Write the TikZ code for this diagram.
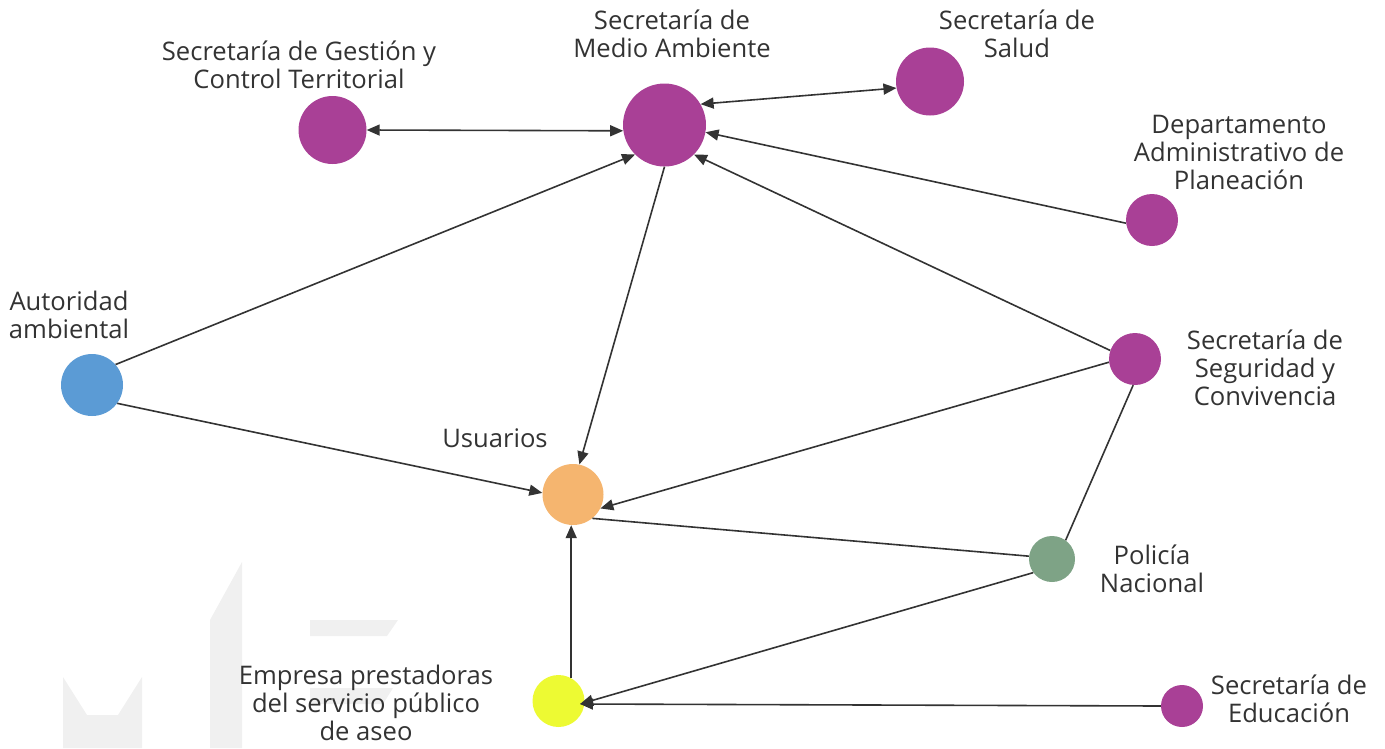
\documentclass[tikz,border=0pt]{standalone}
\usepackage{fontspec}
\setmainfont{Open Sans}
\usetikzlibrary{arrows.meta}
\definecolor{purp}{HTML}{A94096}
\definecolor{bluec}{HTML}{5B9BD5}
\definecolor{orangec}{HTML}{F5B56F}
\definecolor{greenc}{HTML}{7EA386}
\definecolor{yellowc}{HTML}{EDFA33}
\definecolor{txt}{HTML}{333333}
\definecolor{wm}{HTML}{F0F0F0}
\begin{document}
\begin{tikzpicture}[x=1pt,y=-1pt,
 dot/.style={circle,inner sep=0pt,minimum size=#1},
 lbl/.style={align=center,text=txt,inner sep=0pt,font=\fontsize{25.6}{28}\selectfont},
 link/.style={draw=txt,line width=1.6pt},
 arr/.style={link,-{Triangle[length=13pt,width=11pt]}},
 darr/.style={link,{Triangle[length=13pt,width=11pt]}-{Triangle[length=13pt,width=11pt]}}]
\useasboundingbox (0,0) rectangle (1385,748);
% watermark
\fill[wm] (63,677) -- (87,715) -- (118,715) -- (142,677) -- (142,748) -- (63,748) -- cycle;
\fill[wm] (210,620) -- (242,562) -- (242,748) -- (210,748) -- cycle;
\fill[wm] (310,620) -- (398,620) -- (387,636) -- (310,636) -- cycle;
\fill[wm] (310,688) -- (393,688) -- (383,704) -- (310,704) -- cycle;
% nodes
\node[dot=83pt,fill=purp] (medio) at (664.5,125) {};
\node[dot=68pt,fill=purp] (gestion) at (332.5,130) {};
\node[dot=68pt,fill=purp] (salud) at (930,81.5) {};
\node[dot=52pt,fill=purp] (plan) at (1152,220) {};
\node[dot=52pt,fill=purp] (seg) at (1135,359) {};
\node[dot=46pt,fill=greenc] (pol) at (1052,559) {};
\node[dot=61pt,fill=orangec] (usu) at (573,494.5) {};
\node[dot=62pt,fill=bluec] (aut) at (92,385) {};
\node[dot=52pt,fill=yellowc] (emp) at (558.5,701) {};
\node[dot=42pt,fill=purp] (edu) at (1182,706) {};
% labels
\node[lbl] (lgestion) at (299,64.5) {Secretaría de Gestión y\\Control Territorial};
\node[lbl] (lmedio) at (672,33.5) {Secretaría de\\Medio Ambiente};
\node[lbl] (lsalud) at (1017,33.5) {Secretaría de\\Salud};
\node[lbl] (lplan) at (1239,152.5) {Departamento\\Administrativo de\\Planeación};
\node[lbl] (laut) at (69,315) {Autoridad\\ambiental};
\node[lbl] (lseg) at (1265,368) {Secretaría de\\Seguridad y\\Convivencia};
\node[lbl] (lusu) at (495,438) {Usuarios};
\node[lbl] (lpol) at (1152,569) {Policía\\Nacional};
\node[lbl] (lemp) at (366,703) {Empresa prestadoras\\del servicio público\\de aseo};
\node[lbl] (ledu) at (1289,699) {Secretaría de\\Educación};
% connectors
\coordinate (empin) at ([xshift=21.5pt,yshift=-3pt]emp.center);
\draw[darr] (gestion.0) -- (medio.188);
\draw[darr] (medio.30) -- (salud.191);
\draw[arr] (plan.187) -- (medio.-10);
\draw[arr] (seg.161) -- (medio.-45);
\draw[arr] (aut.41) -- (medio.225);
\draw[arr] (medio.-90) -- (usu.78);
\draw[arr] (aut.-36) -- (usu.177);
\draw[arr] (seg.187) -- (usu.-27);
\draw[link] (usu.-51) -- (pol.173);
\draw[link] (seg.-94) -- (pol.54);
\draw[arr] (pol.216) -- (empin);
\draw[arr] (edu.180) -- (empin);
\draw[arr] (emp.61) -- (emp.61 |- usu.south);
\end{tikzpicture}
\end{document}
